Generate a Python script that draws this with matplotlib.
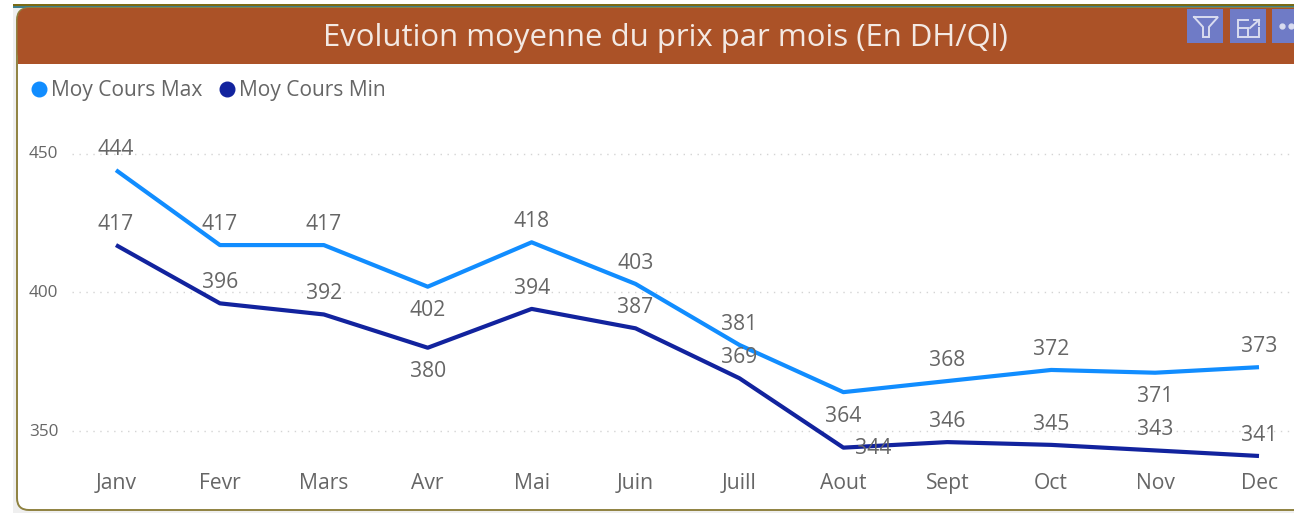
import matplotlib
matplotlib.use("Agg")
import matplotlib.pyplot as plt
from matplotlib.lines import Line2D
from matplotlib.patches import FancyBboxPatch, Rectangle
from matplotlib.transforms import ScaledTranslation

plt.rcParams['font.family'] = ['Open Sans', 'DejaVu Sans']

# ---- data ----
months = ['Janv', 'Fevr', 'Mars', 'Avr', 'Mai', 'Juin', 'Juill', 'Aout', 'Sept', 'Oct', 'Nov', 'Dec']
cours_max = [444, 417, 417, 402, 418, 403, 381, 364, 368, 372, 371, 373]
cours_min = [417, 396, 392, 380, 394, 387, 369, 344, 346, 345, 343, 341]
y_ticks = [350, 400, 450]
title = 'Evolution moyenne du prix par mois (En DH/Ql)'
series_names = ['Moy Cours Max', 'Moy Cours Min']

# label placement: a = above, b = below, r = right of the point
place_max = ['a', 'a', 'a', 'b', 'a', 'a', 'a', 'b', 'a', 'a', 'b', 'a']
place_min = ['a', 'a', 'a', 'b', 'a', 'a', 'a', 'r', 'a', 'a', 'a', 'a']

# ---- style ----
W, H = 1294, 513
COL_MAX, COL_MIN = '#118DFF', '#12239E'
TXT = '#666666'
BANNER = '#AB5227'
BTN = '#6F7BC6'
BORDER = '#8F8240'

fig = plt.figure(figsize=(W / 100, H / 100), dpi=100, facecolor='white')

# pixel-coordinate layer for the card
bg = fig.add_axes([0, 0, 1, 1])
bg.set_xlim(0, W)
bg.set_ylim(H, 0)
bg.axis('off')
bg.add_patch(Rectangle((13, 4), W, H, fc='#EFEFEF', ec='none'))
bg.add_patch(Rectangle((13, 4), W, 2, fc='#7A6A14', ec='none'))
bg.add_patch(Rectangle((13, 6), W, 1.5, fc='#3E7F8C', ec='none'))
bg.add_patch(FancyBboxPatch((17, 8), W + 60, 502, boxstyle='round,pad=0,rounding_size=12',
                            fc='white', ec=BORDER, lw=1.4))
bg.add_patch(FancyBboxPatch((17.5, 8), W + 60, 56, boxstyle='round,pad=0,rounding_size=12',
                            fc=BANNER, ec='none'))
bg.add_patch(Rectangle((17.5, 30), W, 34, fc=BANNER, ec='none'))
bg.text(665, 38, title, color='#F3E9E3', fontsize=22.4, ha='center', va='center', fontweight='medium')

# header buttons
for x0, x1 in [(1187, 1223), (1230, 1266), (1272, 1294)]:
    bg.add_patch(Rectangle((x0, 9), x1 - x0, 34, fc=BTN, ec='none'))
ic = dict(color='#D9DCF0', lw=1.4, solid_joinstyle='miter')
bg.plot([1194, 1218, 1209, 1209, 1203, 1203, 1194], [17, 17, 27, 37, 37, 27, 17], **ic)
bg.plot([1248, 1238, 1238, 1259, 1259], [20, 20, 37, 37, 28], **ic)
bg.plot([1238, 1248, 1248], [28, 28, 37], **ic)
bg.plot([1250, 1259], [28, 20], **ic)
bg.plot([1254, 1259, 1259], [20, 20, 25], **ic)
bg.plot([1282, 1291], [26, 26], ls='none', marker='o', ms=3.5, color='#D9DCF0')

# chart axes: gridline span x 72..1294, plot y 65..470
top, bottom, left = 65, 470, 72
ax = fig.add_axes([left / W, 1 - bottom / H, (W - left) / W, (bottom - top) / H])
ax.patch.set_alpha(0)
px_month = (1259 - 116) / 11
ax.set_xlim(-(116 - left) / px_month, 11 + (W - 1259) / px_month)
px_unit = (431 - 153.5) / 100
ax.set_ylim(350 - (bottom - 431) / px_unit, 450 + (153.5 - top) / px_unit)
for s in ax.spines.values():
    s.set_visible(False)
x = list(range(len(months)))
ax.set_xticks(x, months)
ax.set_yticks(y_ticks)
ax.tick_params(axis='x', length=0, labelsize=15.2, labelcolor=TXT, pad=2.5)
ax.tick_params(axis='y', length=0, labelsize=12.3, labelcolor=TXT, pad=10)
lift = ScaledTranslation(0, 1 / 100, fig.dpi_scale_trans)
for lab in ax.get_yticklabels():
    lab.set_transform(lab.get_transform() + lift)
ax.grid(axis='y', color='#D4D4D4', lw=1, ls=(0, (1, 4)))
ax.set_axisbelow(True)

ax.plot(x, cours_max, color=COL_MAX, lw=3.0, solid_capstyle='butt', solid_joinstyle='round', clip_on=False)
ax.plot(x, cours_min, color=COL_MIN, lw=3.0, solid_capstyle='butt', solid_joinstyle='round', clip_on=False)

px = 0.72
offsets = {'a': (0, 20.5), 'b': (0, -24), 'r': (30, -1)}
for vals, places in [(cours_max, place_max), (cours_min, place_min)]:
    for i, (v, p) in enumerate(zip(vals, places)):
        dx, dy = offsets[p]
        ax.annotate(str(v), (i, v), xytext=(dx * px, dy * px), textcoords='offset points',
                    ha='center', va='center', fontsize=15.2, color=TXT, annotation_clip=False)

handles = [Line2D([], [], ls='none', marker='o', ms=10.5, color=c) for c in (COL_MAX, COL_MIN)]
bg.legend(handles, series_names, loc='center left', bbox_to_anchor=(33 / W, 1 - 90.5 / H),
          bbox_transform=fig.transFigure, ncol=2, frameon=False, fontsize=15.1, labelcolor=TXT,
          handlelength=0.55, handletextpad=0.3, columnspacing=0.9, borderpad=0, borderaxespad=0)

fig.savefig('out.png', dpi=100)
